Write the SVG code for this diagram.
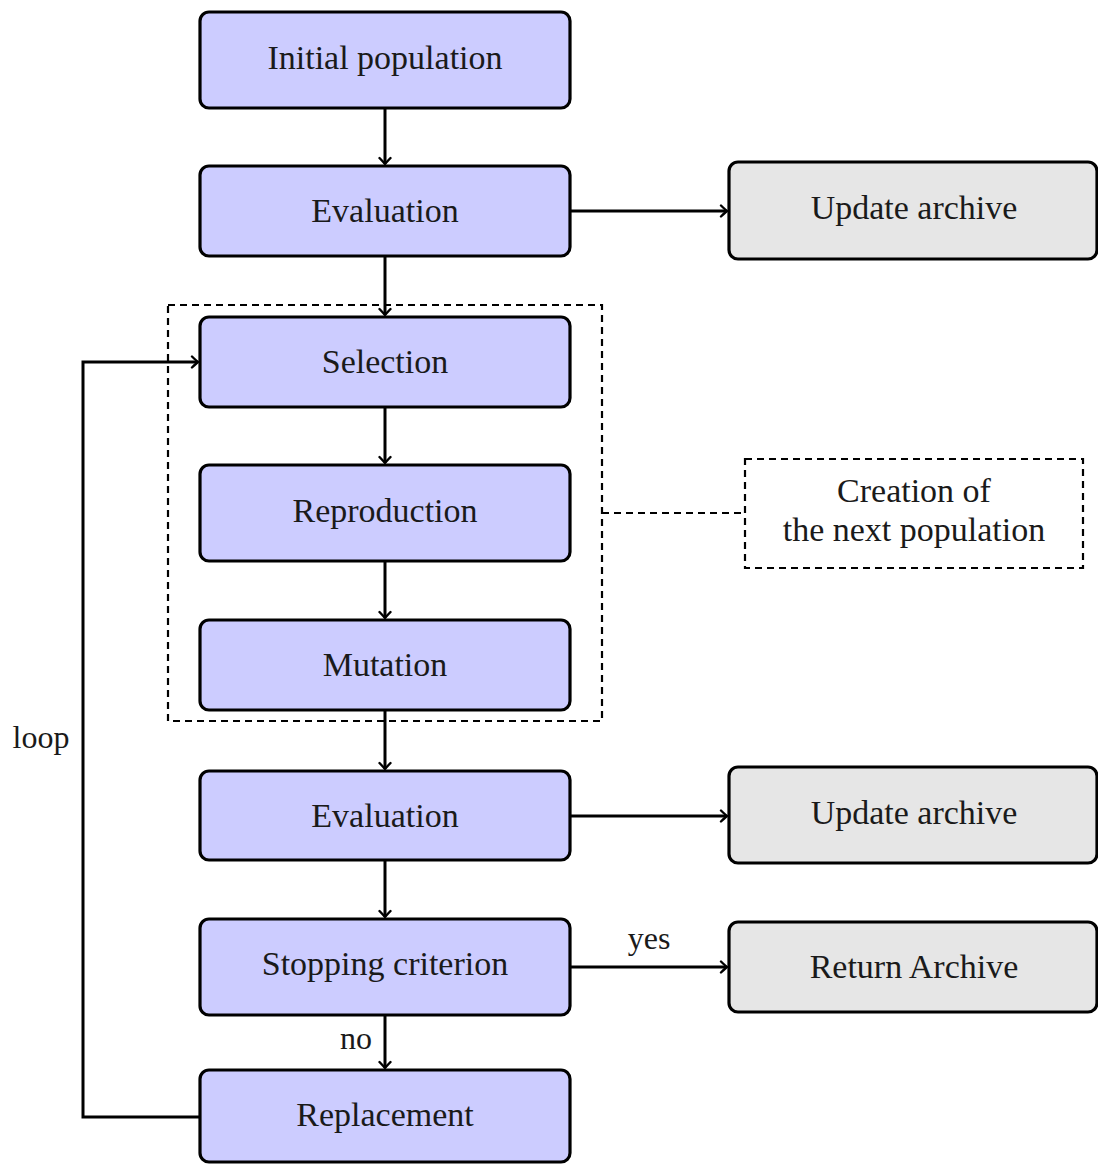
<svg xmlns="http://www.w3.org/2000/svg" width="1098" height="1164" viewBox="0 0 1098 1164">
<style>
.blue{fill:#ccccff;stroke:#000;stroke-width:3.2}
.gray{fill:#e6e6e6;stroke:#000;stroke-width:3.2}
text{font-family:'Liberation Serif',serif;font-size:34px;fill:#1a1a1a;text-anchor:middle}
.s{font-size:32px}
.c{fill:none;stroke:#000;stroke-width:3}
.d{fill:none;stroke:#000;stroke-width:2.2;stroke-dasharray:7 5}
</style>
<defs>
<marker id="ah" viewBox="-8 -7 10 14" refX="0" refY="0" markerWidth="10" markerHeight="14" markerUnits="userSpaceOnUse" orient="auto">
<path d="M-6,-5.5 Q-1.5,-1.2 0,0 Q-1.5,1.2 -6,5.5" fill="none" stroke="#000" stroke-width="2.4" stroke-linecap="round"/>
</marker>
</defs>
<rect width="1098" height="1164" fill="#fff"/>
<g id="connectors">
<path class="c" d="M385,108 V164" marker-end="url(#ah)"/>
<path class="c" d="M385,256 V315" marker-end="url(#ah)"/>
<path class="c" d="M385,407 V463" marker-end="url(#ah)"/>
<path class="c" d="M385,561 V618" marker-end="url(#ah)"/>
<path class="c" d="M385,710 V769" marker-end="url(#ah)"/>
<path class="c" d="M385,860 V917" marker-end="url(#ah)"/>
<path class="c" d="M385,1015 V1068" marker-end="url(#ah)"/>
<path class="c" d="M570,211 H727" marker-end="url(#ah)"/>
<path class="c" d="M570,816 H727" marker-end="url(#ah)"/>
<path class="c" d="M570,967 H727" marker-end="url(#ah)"/>
<path class="c" d="M200,1117 H83 V362 H198" marker-end="url(#ah)"/>
<path class="d" d="M602,513 H745"/>
<text class="s" x="649" y="949">yes</text>
<text class="s" x="356" y="1049">no</text>
<text class="s" x="41" y="748">loop</text>
</g>
<g id="group-box"><rect class="d" x="168" y="305" width="434" height="416"/></g>
<g id="n-init"><rect class="blue" x="200" y="12" width="370" height="96" rx="9"/><text x="385" y="69">Initial population</text></g>
<g id="n-eval1"><rect class="blue" x="200" y="166" width="370" height="90" rx="9"/><text x="385" y="222">Evaluation</text></g>
<g id="n-arch1"><rect class="gray" x="729" y="162" width="368" height="97" rx="9"/><text x="914" y="219">Update archive</text></g>
<g id="n-sel"><rect class="blue" x="200" y="317" width="370" height="90" rx="9"/><text x="385" y="373">Selection</text></g>
<g id="n-rep"><rect class="blue" x="200" y="465" width="370" height="96" rx="9"/><text x="385" y="522">Reproduction</text></g>
<g id="n-mut"><rect class="blue" x="200" y="620" width="370" height="90" rx="9"/><text x="385" y="676">Mutation</text></g>
<g id="n-create"><rect class="d" x="745" y="459" width="338" height="109"/><text x="914" y="502">Creation of</text><text x="914" y="541">the next population</text></g>
<g id="n-eval2"><rect class="blue" x="200" y="771" width="370" height="89" rx="9"/><text x="385" y="827">Evaluation</text></g>
<g id="n-arch2"><rect class="gray" x="729" y="767" width="368" height="96" rx="9"/><text x="914" y="824">Update archive</text></g>
<g id="n-stop"><rect class="blue" x="200" y="919" width="370" height="96" rx="9"/><text x="385" y="975">Stopping criterion</text></g>
<g id="n-ret"><rect class="gray" x="729" y="922" width="368" height="90" rx="9"/><text x="914" y="978">Return Archive</text></g>
<g id="n-repl"><rect class="blue" x="200" y="1070" width="370" height="92" rx="9"/><text x="385" y="1126">Replacement</text></g>
</svg>
